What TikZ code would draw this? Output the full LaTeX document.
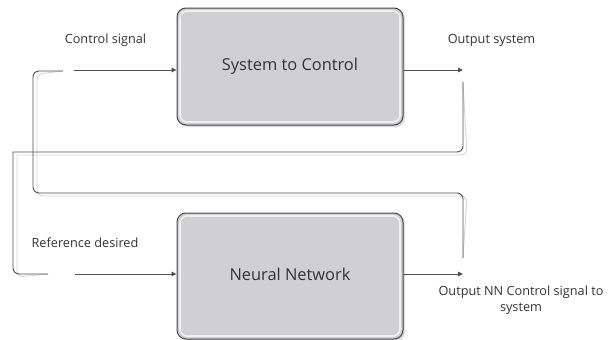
\documentclass[tikz,border=0pt]{standalone}
\usepackage{fontspec}
\setmainfont{Open Sans}
\usetikzlibrary{arrows.meta,calc}
\definecolor{linec}{HTML}{4F4F55}
\definecolor{shadc}{HTML}{D4D4D4}
\definecolor{boxfill}{HTML}{D0D0D2}
\definecolor{boxedge}{HTML}{48484C}
\definecolor{txt}{HTML}{333333}
\tikzset{
  conn/.style={draw=linec, line width=0.9pt},
  shad/.style={draw=shadc, line width=0.9pt},
  arr/.style={conn, -{Triangle[length=5pt,width=4.5pt]}},
  blk/.style={draw=boxedge, fill=boxfill, line width=1pt, rounded corners=9pt,
    minimum width=226pt, inner sep=0pt},
  blktxt/.style={font=\fontsize{16.4}{19}\selectfont, text=txt},
  lbl/.style={font=\fontsize{12.7}{16}\selectfont, text=txt, inner sep=0pt, align=center},
}
\begin{document}
\begin{tikzpicture}[x=1pt,y=-1pt]
\useasboundingbox (0,0) rectangle (611,340);
% boxes with shadow
\fill[gray!30, rounded corners=9pt] (179,10) rectangle (405,127);
\fill[gray!30, rounded corners=9pt] (179,215) rectangle (405,341);
\node[blk, minimum height=117pt] (sys) at (290,66.5) {};
\node[blk, minimum height=126pt] (nn) at (290,276) {};
\draw[white!88!gray, line width=1.6pt, rounded corners=7pt] (180,11) rectangle (400,122);
\draw[white!88!gray, line width=1.6pt, rounded corners=7pt] (180,216) rectangle (400,336);
\node[blktxt] (syst) at (sys.center) {System to Control};
\node[blktxt] (nnt) at (290,274) {Neural Network};
% coordinates
\coordinate (cs) at (74,70);
\coordinate (os) at (463,70);
\coordinate (rd) at (75,274);
\coordinate (onn) at (463,274);
\coordinate (f1a) at (463,82);
\coordinate (f1b) at (48,274);
\coordinate (f2a) at (463,258);
\coordinate (f2b) at (63,71);
% feedback shadows
\begin{scope}[shift={(4,3)}]
\draw[shad] (f1a) [rounded corners=6pt] -- (463,152) [sharp corners] -- (13,152) [rounded corners=6pt] -- (13,274) -- (f1b);
\draw[shad, rounded corners=6pt] (f2a) -- (463,193) -- (33,193) -- (33,71) -- (f2b);
\end{scope}
% feedback lines
\draw[conn] (f1a) [rounded corners=6pt] -- (463,152) [sharp corners] -- (13,152) [rounded corners=6pt] -- (13,274) -- (f1b);
\draw[conn, rounded corners=6pt] (f2a) -- (463,193) -- (33,193) -- (33,71) -- (f2b);
% arrows
\draw[arr] (cs) -- (cs -| sys.west);
\draw[arr] (sys.east |- os) -- (os);
\draw[arr] (rd) -- (rd -| nn.west);
\draw[arr] (nn.east |- onn) -- (onn);
% labels
\node[lbl] (l1) at (105.5,40) {Control signal};
\node[lbl] (l2) at (491.5,40) {Output system};
\node[lbl] (l3) at (85,243) {Reference desired};
\node[lbl] (l4) at (521,300) {Output NN Control signal to\\system};
\end{tikzpicture}
\end{document}
